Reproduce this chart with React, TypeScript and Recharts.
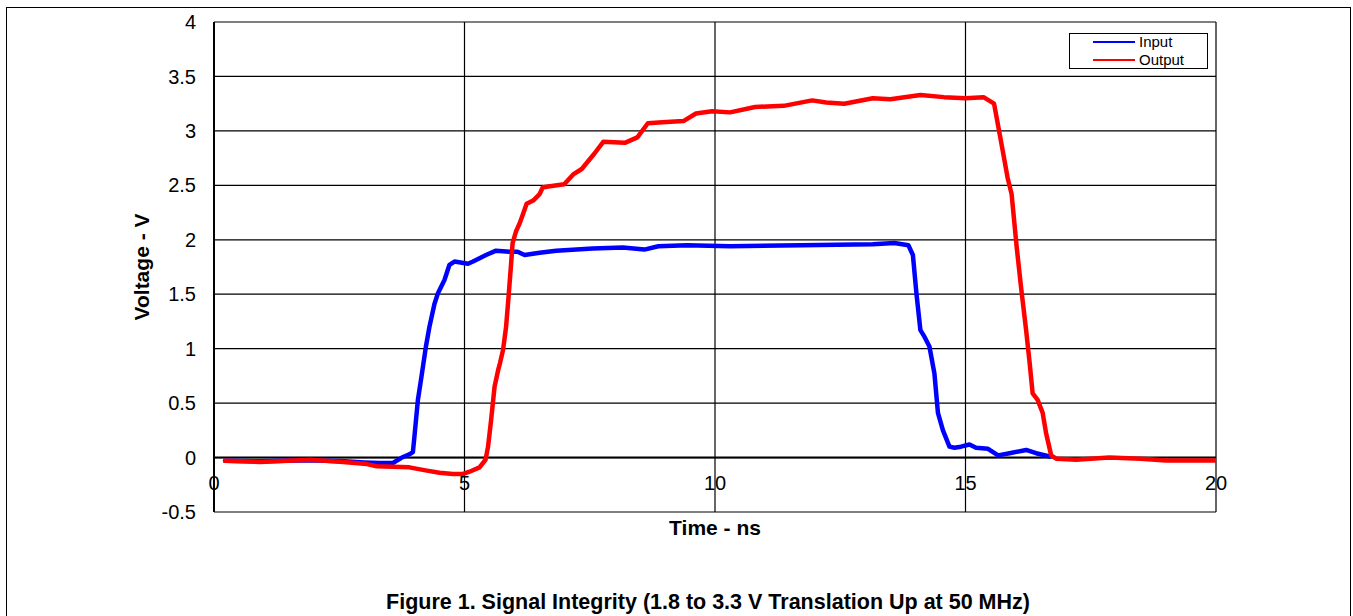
import React from "react";
import {
  LineChart,
  Line,
  XAxis,
  YAxis,
  CartesianGrid,
  ReferenceLine,
} from "recharts";

// ---- data (time in ns, voltage in V) ----
const inputTime = [
  0.22, 0.9, 1.9, 2.6, 3.0, 3.3, 3.57, 3.75, 3.9, 3.97, 4.0, 4.07, 4.14, 4.23, 4.3, 4.4, 4.47, 4.6,
  4.7, 4.8, 5.07, 5.17, 5.43, 5.63, 5.9, 6.06, 6.2, 6.5, 6.83, 7.56, 8.16, 8.59, 8.87, 9.44, 10.3,
  11.72, 13.15, 13.58, 13.86, 13.95, 14.02, 14.1, 14.18, 14.28, 14.38, 14.45, 14.55, 14.68, 14.78,
  14.91, 15.08, 15.21, 15.45, 15.65, 15.88, 16.21, 16.41, 16.68,
];
const inputVolt = [
  -0.03, -0.035, -0.025, -0.035, -0.045, -0.05, -0.05, 0.0, 0.03, 0.05, 0.19, 0.53, 0.74, 1.02, 1.2,
  1.41, 1.51, 1.63, 1.77, 1.8, 1.78, 1.8, 1.86, 1.9, 1.89, 1.89, 1.86, 1.88, 1.9, 1.92, 1.93, 1.91,
  1.94, 1.95, 1.94, 1.95, 1.96, 1.97, 1.95, 1.86, 1.51, 1.17, 1.11, 1.02, 0.77, 0.41, 0.25, 0.1, 0.09,
  0.1, 0.12, 0.09, 0.08, 0.02, 0.04, 0.07, 0.04, 0.01,
];

const outputTime = [
  0.22, 0.92, 1.92, 2.58, 3.05, 3.25, 3.9, 4.25, 4.5, 4.77, 4.97, 5.1, 5.3, 5.42, 5.47, 5.53, 5.6,
  5.67, 5.71, 5.77, 5.83, 5.88, 5.93, 5.96, 6.03, 6.1, 6.17, 6.24, 6.37, 6.5, 6.56, 6.67, 6.99, 7.17,
  7.34, 7.59, 7.77, 8.2, 8.45, 8.66, 8.95, 9.37, 9.62, 9.94, 10.3, 10.8, 11.37, 11.94, 12.22, 12.58,
  13.15, 13.5, 14.1, 14.57, 15.0, 15.36, 15.57, 15.65, 15.75, 15.84, 15.92, 16.02, 16.11, 16.21,
  16.28, 16.34, 16.44, 16.54, 16.61, 16.71, 16.81, 17.21, 17.87, 18.5, 19.0, 20.0,
];
const outputVolt = [
  -0.03, -0.04, -0.02, -0.04, -0.06, -0.08, -0.09, -0.12, -0.14, -0.15, -0.15, -0.13, -0.09, -0.02,
  0.1, 0.34, 0.65, 0.8, 0.87, 0.99, 1.2, 1.48, 1.78, 1.97, 2.08, 2.15, 2.24, 2.33, 2.36, 2.42, 2.48,
  2.49, 2.51, 2.6, 2.65, 2.79, 2.9, 2.89, 2.94, 3.07, 3.08, 3.09, 3.16, 3.18, 3.17, 3.22, 3.23, 3.28,
  3.26, 3.25, 3.3, 3.29, 3.33, 3.31, 3.3, 3.31, 3.25, 3.05, 2.8, 2.57, 2.42, 1.94, 1.56, 1.17, 0.87,
  0.59, 0.53, 0.41, 0.22, 0.02, -0.01, -0.02, 0.0, -0.01, -0.027, -0.027,
];

const xTicks = [0, 5, 10, 15, 20];
const yTicks = [-0.5, 0, 0.5, 1, 1.5, 2, 2.5, 3, 3.5, 4];

const seriesNames = ["Input", "Output"];
const seriesColors = ["#0000FF", "#FF0000"];

const inputData = inputTime.map((t, i) => ({ t, v: inputVolt[i] }));
const outputData = outputTime.map((t, i) => ({ t, v: outputVolt[i] }));

const FONT = "Arial, 'Liberation Sans', Helvetica, sans-serif";

const XTick = (props: any) => {
  const { x, y, payload } = props;
  return (
    <text x={x} y={y - 22} textAnchor="middle" fontSize={20} fontFamily={FONT} fill="#000">
      {payload.value}
    </text>
  );
};

const LegendBox = () => (
  <div
    style={{
      position: "absolute",
      left: 1069,
      top: 33,
      width: 139,
      height: 36,
      fontFamily: FONT,
    }}
  >
    <div
      style={{
        position: "absolute",
        left: 0,
        top: 0,
        width: 139,
        height: 36,
        boxSizing: "border-box",
        border: "1.5px solid #000",
        background: "#fff",
      }}
    />
    {seriesNames.map((name, i) => (
      <React.Fragment key={name}>
        <div
          style={{
            position: "absolute",
            left: 24,
            top: 8.3 + 18 * i,
            width: 42,
            height: 2,
            background: seriesColors[i],
          }}
        />
        <div
          style={{
            position: "absolute",
            left: 70,
            top: 0.3 + 18 * i,
            height: 18,
            lineHeight: "18px",
            fontSize: 15,
            color: "#000",
            whiteSpace: "nowrap",
          }}
        >
          {name}
        </div>
      </React.Fragment>
    ))}
  </div>
);

export default function App() {
  return (
    <div
      style={{
        position: "absolute",
        left: 0,
        top: 0,
        width: 1353,
        height: 616,
        overflow: "hidden",
        background: "#fff",
        fontFamily: FONT,
      }}
    >
      <div
        style={{
          position: "absolute",
          left: 6,
          top: 7,
          width: 1345,
          height: 700,
          boxSizing: "border-box",
          border: "1.5px solid #000",
        }}
      />
      <LineChart
        width={1353}
        height={616}
        margin={{ top: 22, right: 137, left: 154, bottom: 74 }}
        style={{ position: "absolute", left: 0, top: 0 }}
      >
        <CartesianGrid stroke="#000" strokeWidth={1.2} horizontal vertical />
        <XAxis
          dataKey="t"
          type="number"
          domain={[0, 20]}
          ticks={xTicks}
          allowDataOverflow
          axisLine={false}
          tickLine={false}
          tickSize={0}
          tickMargin={0}
          height={30}
          tick={<XTick />}
          interval={0}
        />
        <YAxis
          dataKey="v"
          type="number"
          domain={[-0.5, 4]}
          ticks={yTicks}
          allowDataOverflow
          width={60}
          axisLine={{ stroke: "#000", strokeWidth: 2 }}
          tickLine={false}
          tickSize={0}
          tickMargin={18}
          interval={0}
          tick={{ fontSize: 20, fontFamily: FONT, fill: "#000" }}
        />
        <ReferenceLine y={0} stroke="#000" strokeWidth={2} />
        <Line
          data={inputData}
          dataKey="v"
          name={seriesNames[0]}
          type="linear"
          stroke={seriesColors[0]}
          strokeWidth={4.5}
          dot={false}
          activeDot={false}
          isAnimationActive={false}
          strokeLinejoin="round"
          strokeLinecap="round"
        />
        <Line
          data={outputData}
          dataKey="v"
          name={seriesNames[1]}
          type="linear"
          stroke={seriesColors[1]}
          strokeWidth={4.5}
          dot={false}
          activeDot={false}
          isAnimationActive={false}
          strokeLinejoin="round"
          strokeLinecap="round"
        />
      </LineChart>
      <LegendBox />
      <div
        style={{
          position: "absolute",
          left: 142,
          top: 267,
          transform: "translate(-50%, -50%) rotate(-90deg)",
          fontSize: 21,
          fontWeight: "bold",
          whiteSpace: "nowrap",
          color: "#000",
        }}
      >
        Voltage - V
      </div>
      <div
        style={{
          position: "absolute",
          left: 715,
          top: 528,
          transform: "translate(-50%, -50%)",
          fontSize: 21,
          fontWeight: "bold",
          whiteSpace: "nowrap",
          color: "#000",
        }}
      >
        Time - ns
      </div>
      <div
        style={{
          position: "absolute",
          left: 708,
          top: 602,
          transform: "translate(-50%, -50%)",
          fontSize: 21.5,
          fontWeight: "bold",
          whiteSpace: "nowrap",
          color: "#000",
        }}
      >
        Figure 1. Signal Integrity (1.8 to 3.3 V Translation Up at 50 MHz)
      </div>
    </div>
  );
}
